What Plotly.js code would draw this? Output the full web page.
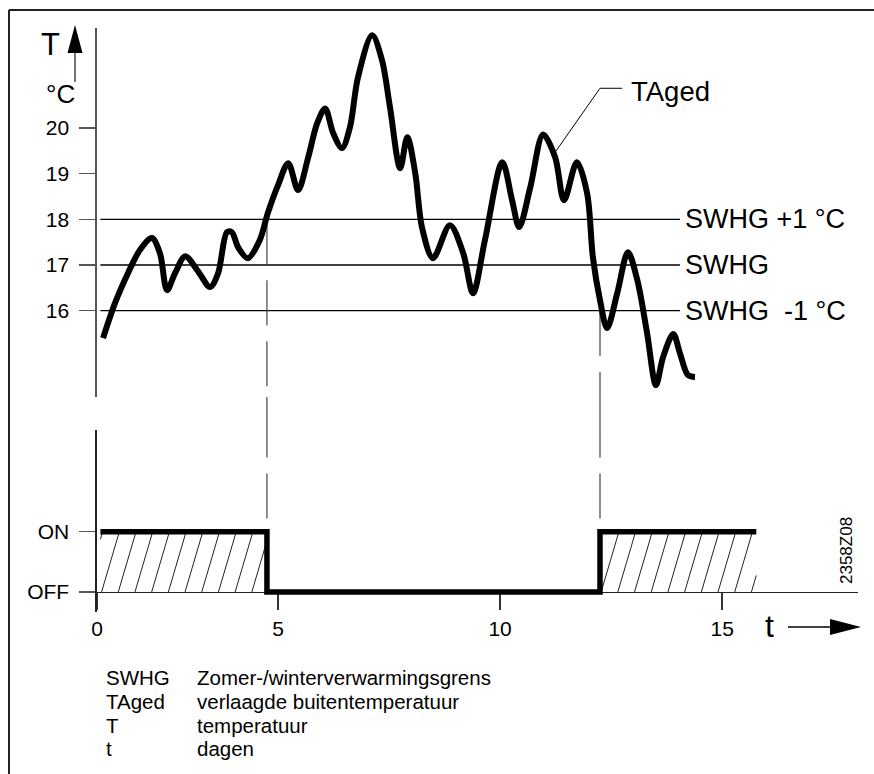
<!DOCTYPE html>
<html><head><meta charset="utf-8">
<script src="https://cdn.plot.ly/plotly-3.0.1.min.js"></script>
<style>html,body{margin:0;padding:0;background:#fff}#chart{width:874px;height:774px}</style>
</head><body><div id="chart"></div>
<script>
// ---- data ----
const tDays = [1.06,1.33,1.62,1.89,2.16,2.34,2.50,2.68,2.91,3.18,3.47,3.65,3.85,3.96,4.10,4.32,4.59,4.77,5.00,5.23,5.45,5.68,5.88,6.06,6.24,6.44,6.62,6.80,7.12,7.34,7.52,7.75,7.91,8.09,8.24,8.49,8.87,9.17,9.39,9.66,10.05,10.27,10.43,10.68,10.97,11.24,11.44,11.73,11.96,12.09,12.25,12.41,12.64,12.88,13.09,13.31,13.51,13.67,13.90,14.05,14.23,14.39];
const tAged = [15.40,16.17,16.82,17.33,17.59,17.26,16.45,16.82,17.19,16.89,16.52,16.82,17.72,17.72,17.39,17.15,17.55,18.14,18.75,19.23,18.64,19.36,20.10,20.43,19.89,19.56,20.02,21.11,22.03,21.49,20.46,19.12,19.80,19.01,17.83,17.15,17.87,17.26,16.38,17.55,19.25,18.42,17.83,18.70,19.86,19.36,18.42,19.25,18.57,17.17,16.23,15.62,16.39,17.28,16.67,15.51,14.37,14.98,15.49,15.07,14.59,14.55];
const swhgLevels = [18, 17, 16];
const swhgLabels = ['SWHG +1 °C', 'SWHG', 'SWHG\u00a0 -1 °C'];
const levelStart = 1.0, levelEnd = 14.05;
const stepDays = [1.0, 4.75, 12.25, 15.77];
const stepState = [1, 0, 1, 1];
const onPeriods = [[1.0, 4.75], [12.25, 15.77]];
const switchDays = [4.75, 12.25];
const switchTemps = [18, 16];
const xTickVals = [0.923, 5, 10, 15];
const xTickText = ['0', '5', '10', '15'];
const yTickVals = [16, 17, 18, 19, 20];
const stateTickVals = [0, 1];
const stateTickText = ['OFF', 'ON'];
const legendCodes = ['SWHG', 'TAged', 'T', 't'];
const legendTexts = ['Zomer-/winterverwarmingsgrens', 'verlaagde buitentemperatuur', 'temperatuur', 'dagen'];
const taLeaderX = [11.24, 12.25, 12.75];
const taLeaderY = [19.47, 20.87, 20.87];

// ---- layout geometry (page pixels) ----
const PL = 97, PR = 858, PT = 28, PB = 612;
const W = PR - PL, H = PB - PT;
const px = v => (v - PL) / W;
const py = v => (PB - v) / H;
const topDom = [py(397), 1];
const botDom = [0, py(430)];
const yRange = [14.11, 22.19];
const y2Range = [-0.332, 2.687];
const xRange = [0.923, 18.06];
const xAxisPos = botDom[0] + (0 - y2Range[0]) / (y2Range[1] - y2Range[0]) * (botDom[1] - botDom[0]);

// hatch texture geometry (in axis units): slant and spacing of the thin diagonal lines
const hatchSlant = 0.40;   // days of horizontal travel from OFF to ON
const hatchStep = 0.376;   // days between lines

const FONT = 'Liberation Sans, Arial, Helvetica, sans-serif';
const dashStyle = '45px,16px';
const traces = [];

swhgLevels.forEach(lv => traces.push({
  x: [levelStart, levelEnd], y: [lv, lv], xaxis: 'x', yaxis: 'y', mode: 'lines',
  line: {color: '#000', width: 1.3}, hoverinfo: 'skip', showlegend: false
}));

// hatched ON areas (texture clipped to each ON period)
const hx = [], hy = [];
onPeriods.forEach(([a, b]) => {
  for (let c = a - hatchSlant + 0.05; c < b; c += hatchStep) {
    const t0 = Math.max(0, (a - c) / hatchSlant);
    const t1 = Math.min(1, (b - c) / hatchSlant);
    if (t1 <= t0) continue;
    hx.push(c + hatchSlant * t0, c + hatchSlant * t1, null);
    hy.push(t0, t1, null);
  }
});
traces.push({x: hx, y: hy, xaxis: 'x', yaxis: 'y2', mode: 'lines',
  line: {color: '#222', width: 1}, hoverinfo: 'skip', showlegend: false, connectgaps: false});

switchDays.forEach((d, i) => {
  traces.push({x: [d, d], y: [switchTemps[i], 10], xaxis: 'x', yaxis: 'y', mode: 'lines',
    line: {color: '#444', width: 1.2, dash: dashStyle}, hoverinfo: 'skip', showlegend: false});
  traces.push({x: [d, d], y: [5, 1], xaxis: 'x', yaxis: 'y2', mode: 'lines',
    line: {color: '#444', width: 1.2, dash: dashStyle}, hoverinfo: 'skip', showlegend: false});
});

traces.push({
  x: stepDays, y: stepState, xaxis: 'x', yaxis: 'y2', mode: 'lines',
  line: {color: '#000', width: 5.5, shape: 'hv'}, hoverinfo: 'skip', showlegend: false
});

traces.push({
  x: tDays, y: tAged, xaxis: 'x', yaxis: 'y', mode: 'lines',
  line: {color: '#000', width: 6, shape: 'spline', smoothing: 0.9}, hoverinfo: 'skip', showlegend: false
});

const annotations = [];
swhgLevels.forEach((lv, i) => annotations.push({
  x: levelEnd + 0.07, y: lv, xref: 'x', yref: 'y', text: swhgLabels[i], showarrow: false,
  xanchor: 'left', yanchor: 'middle', font: {family: FONT, size: 27, color: '#000'}
}));
annotations.push({x: 12.9, y: 20.8, xref: 'x', yref: 'y', text: 'TAged', showarrow: false,
  xanchor: 'left', yanchor: 'middle', font: {family: FONT, size: 27.5, color: '#000'}});
annotations.push({x: px(50), y: py(44), xref: 'paper', yref: 'paper', text: 'T', showarrow: false,
  xanchor: 'center', yanchor: 'middle', font: {family: FONT, size: 31, color: '#000'}});
annotations.push({x: px(60), y: py(94), xref: 'paper', yref: 'paper', text: '°C', showarrow: false,
  xanchor: 'center', yanchor: 'middle', font: {family: FONT, size: 26, color: '#000'}});
annotations.push({x: px(769), y: py(626), xref: 'paper', yref: 'paper', text: 't', showarrow: false,
  xanchor: 'center', yanchor: 'middle', font: {family: FONT, size: 32, color: '#000'}});
annotations.push({x: px(846), y: py(551), xref: 'paper', yref: 'paper', text: '2358Z08', showarrow: false,
  textangle: -90, xanchor: 'center', yanchor: 'middle', font: {family: FONT, size: 17, color: '#000'}});
const legendY = [677, 701, 725, 748];
legendCodes.forEach((c, i) => {
  annotations.push({x: px(104), y: py(legendY[i]), xref: 'paper', yref: 'paper', text: c, showarrow: false,
    xanchor: 'left', yanchor: 'middle', font: {family: FONT, size: 20.5, color: '#000'}});
  annotations.push({x: px(195), y: py(legendY[i]), xref: 'paper', yref: 'paper', text: legendTexts[i], showarrow: false,
    xanchor: 'left', yanchor: 'middle', font: {family: FONT, size: 20.5, color: '#000'}});
});

const P = (x, y) => px(x).toFixed(5) + ',' + py(y).toFixed(5);
const shapes = [
  // frame
  {type: 'line', xref: 'paper', yref: 'paper', x0: px(9), x1: px(9), y0: py(10), y1: py(780), line: {color: '#222', width: 2}},
  {type: 'line', xref: 'paper', yref: 'paper', x0: px(9), x1: px(880), y0: py(10), y1: py(10), line: {color: '#222', width: 2}},
  // T arrow
  {type: 'line', xref: 'paper', yref: 'paper', x0: px(75), x1: px(75), y0: py(82), y1: py(50), line: {color: '#444', width: 1.5}},
  {type: 'path', xref: 'paper', yref: 'paper', path: 'M' + P(75, 25) + ' L' + P(67.5, 53) + ' L' + P(82.5, 53) + ' Z', fillcolor: '#000', line: {width: 0}},
  // t arrow
  {type: 'line', xref: 'paper', yref: 'paper', x0: px(788), x1: px(834), y0: py(627), y1: py(627), line: {color: '#000', width: 1.3}},
  {type: 'path', xref: 'paper', yref: 'paper', path: 'M' + P(861, 627) + ' L' + P(830, 619) + ' L' + P(830, 635) + ' Z', fillcolor: '#000', line: {width: 0}},
  // TAged leader
  {type: 'path', xref: 'x', yref: 'y', path: 'M' + taLeaderX.map((x, i) => x + ',' + taLeaderY[i]).join(' L'), line: {color: '#000', width: 1}}
];
// dashed switch lines across the gap between the two panels
switchDays.forEach(d => shapes.push({type: 'line', xref: 'x', yref: 'paper', x0: d, x1: d,
  y0: botDom[1], y1: topDom[0], line: {color: '#444', width: 1.2, dash: dashStyle}}));

const axisCommon = {
  showgrid: false, zeroline: false, showline: true, ticks: 'outside', fixedrange: true,
  tickfont: {family: FONT, size: 21, color: '#000'}
};

const layout = {
  width: 874, height: 774,
  margin: {l: PL, r: 874 - PR, t: PT, b: 774 - PB, pad: 0},
  paper_bgcolor: '#fff', plot_bgcolor: 'rgba(0,0,0,0)',
  showlegend: false,
  font: {family: FONT, color: '#000'},
  xaxis: Object.assign({}, axisCommon, {
    range: xRange, anchor: 'free', position: xAxisPos,
    tickmode: 'array', tickvals: xTickVals, ticktext: xTickText,
    ticklen: 17, tickwidth: 1.3, tickcolor: '#333', linecolor: '#222', linewidth: 1.3,
    ticklabelstandoff: 1
  }),
  yaxis: Object.assign({}, axisCommon, {
    domain: topDom, range: yRange, anchor: 'x',
    tickmode: 'array', tickvals: yTickVals,
    ticklen: 16, tickwidth: 1.3, tickcolor: '#555', linecolor: '#555', linewidth: 1.6,
    ticklabelstandoff: 6
  }),
  yaxis2: Object.assign({}, axisCommon, {
    domain: botDom, range: y2Range, anchor: 'x',
    tickmode: 'array', tickvals: stateTickVals, ticktext: stateTickText,
    ticklen: 16, tickwidth: 1.3, tickcolor: '#555', linecolor: '#222', linewidth: 1.6,
    ticklabelstandoff: 6
  }),
  annotations: annotations,
  shapes: shapes
};

Plotly.newPlot('chart', traces, layout, {staticPlot: true, displayModeBar: false});
</script>
</body></html>
